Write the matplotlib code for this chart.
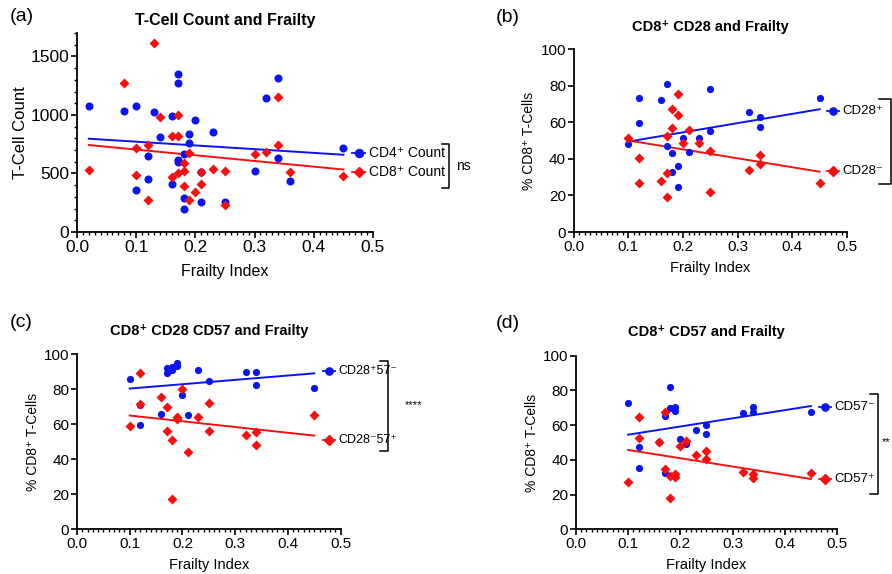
import numpy as np
import matplotlib
matplotlib.use("Agg")
import matplotlib.pyplot as plt
from matplotlib.ticker import MultipleLocator

plt.rcParams["font.family"] = ["Liberation Sans", "DejaVu Sans"]

BLUE = "#0a14f0"
RED = "#f51010"

# (a) T-cell counts
a_cd4_x = [0.02, 0.08, 0.10, 0.10, 0.12, 0.12, 0.13, 0.14, 0.16, 0.16, 0.17, 0.17, 0.17, 0.17, 0.18,
           0.18, 0.18, 0.19, 0.19, 0.20, 0.21, 0.21, 0.23, 0.25, 0.30, 0.32, 0.34, 0.34, 0.36, 0.45]
a_cd4_y = [1080, 1034, 1077, 363, 649, 457, 1026, 811, 994, 411, 1349, 1277, 611, 597, 663,
           291, 197, 834, 757, 960, 514, 254, 857, 254, 517, 1146, 1314, 634, 434, 714]
a_cd8_x = [0.02, 0.08, 0.10, 0.10, 0.12, 0.12, 0.13, 0.14, 0.16, 0.16, 0.17, 0.17, 0.17, 0.18, 0.18,
           0.18, 0.19, 0.19, 0.20, 0.21, 0.21, 0.23, 0.25, 0.25, 0.30, 0.32, 0.34, 0.34, 0.36, 0.45]
a_cd8_y = [529, 1269, 717, 491, 743, 277, 1611, 986, 823, 469, 1000, 823, 506, 591, 520,
           397, 671, 277, 340, 514, 411, 540, 517, 229, 663, 686, 1154, 743, 514, 477]
a_fit_x = [0.02, 0.45]
a_cd4_fit = [797, 660]
a_cd8_fit = [743, 534]

# (b) CD28
b_pos_x = [0.10, 0.12, 0.12, 0.16, 0.17, 0.17, 0.18, 0.18, 0.19, 0.19, 0.20, 0.21, 0.23, 0.25,
           0.25, 0.32, 0.34, 0.34, 0.45]
b_pos_y = [48.3, 73.2, 59.6, 72.5, 81.0, 47.2, 43.2, 32.8, 36.2, 24.6, 51.7, 43.9, 51.7, 78.1,
           55.4, 65.8, 62.8, 57.7, 73.6]
b_neg_x = [0.10, 0.12, 0.12, 0.16, 0.17, 0.17, 0.17, 0.18, 0.18, 0.19, 0.19, 0.20, 0.21, 0.23,
           0.25, 0.25, 0.32, 0.34, 0.34, 0.45]
b_neg_y = [51.7, 40.6, 27.0, 27.7, 52.7, 19.1, 32.2, 67.2, 56.8, 75.4, 64.0, 48.5, 55.8, 48.5,
           44.5, 21.9, 34.1, 42.1, 37.0, 26.6]
b_fit_x = [0.10, 0.45]
b_pos_fit = [49.5, 67.2]
b_neg_fit = [50.1, 33.0]

# (c) CD28 CD57
c_pos_x = [0.10, 0.12, 0.12, 0.16, 0.17, 0.17, 0.18, 0.18, 0.19, 0.19, 0.20, 0.21, 0.23, 0.25,
           0.32, 0.34, 0.34, 0.45]
c_pos_y = [85.7, 70.9, 59.8, 65.6, 92.0, 89.5, 92.6, 90.9, 95.0, 93.2, 77.0, 65.2, 90.8, 84.7,
           89.9, 89.9, 82.5, 80.8]
c_neg_x = [0.10, 0.12, 0.12, 0.16, 0.17, 0.17, 0.18, 0.18, 0.19, 0.19, 0.20, 0.21, 0.23, 0.25,
           0.25, 0.32, 0.34, 0.34, 0.45]
c_neg_y = [58.9, 89.5, 71.8, 75.4, 70.0, 56.3, 51.0, 17.3, 64.2, 62.9, 80.0, 44.0, 64.1, 72.3,
           56.3, 54.1, 55.8, 48.2, 65.1]
c_fit_x = [0.10, 0.45]
c_pos_fit = [80.4, 89.1]
c_neg_fit = [65.0, 53.5]

# (d) CD57
d_neg_x = [0.10, 0.12, 0.12, 0.16, 0.17, 0.17, 0.18, 0.18, 0.19, 0.19, 0.20, 0.21, 0.23, 0.25,
           0.25, 0.32, 0.34, 0.34, 0.45]
d_neg_y = [72.7, 47.6, 35.5, 50.3, 65.4, 32.6, 82.1, 69.7, 70.3, 68.2, 52.0, 49.4, 57.2, 60.1,
           54.9, 66.8, 70.5, 67.7, 67.6]
d_pos_x = [0.10, 0.12, 0.12, 0.16, 0.17, 0.17, 0.18, 0.18, 0.19, 0.19, 0.20, 0.21, 0.23, 0.25,
           0.25, 0.32, 0.34, 0.34, 0.45]
d_pos_y = [27.1, 64.5, 52.6, 50.1, 67.7, 35.0, 30.8, 17.9, 31.7, 30.2, 48.0, 50.8, 42.9, 45.3,
           40.3, 33.1, 32.0, 29.6, 32.4]
d_fit_x = [0.10, 0.45]
d_neg_fit = [54.5, 71.0]
d_pos_fit = [45.7, 29.0]


def style_axes(ax, ymax, ymajor, yminor, tick_fs):
    ax.set_xlim(0, 0.5)
    ax.set_ylim(0, ymax)
    ax.spines["top"].set_visible(False)
    ax.spines["right"].set_visible(False)
    ax.spines["left"].set_linewidth(1.3)
    ax.spines["bottom"].set_linewidth(1.3)
    ax.xaxis.set_major_locator(MultipleLocator(0.1))
    ax.xaxis.set_minor_locator(MultipleLocator(0.01))
    ax.yaxis.set_major_locator(MultipleLocator(ymajor))
    if yminor:
        ax.yaxis.set_minor_locator(MultipleLocator(yminor))
    ax.xaxis.set_major_formatter(matplotlib.ticker.FormatStrFormatter("%.1f"))
    ax.tick_params(which="major", direction="out", length=4, width=1.2, labelsize=tick_fs, pad=1.5)
    ax.tick_params(which="minor", direction="out", length=2.2, width=1.0)


def key(ax, xf, yf, color, marker, ms, label, fs):
    # GraphPad style key: short line with marker, label to the right
    ax.plot([xf - 0.022, xf + 0.022], [yf, yf], color=color, lw=1.3,
            transform=ax.transAxes, clip_on=False)
    ax.plot([xf], [yf], marker=marker, color=color, ms=ms, transform=ax.transAxes, clip_on=False)
    ax.text(xf + 0.036, yf, label, transform=ax.transAxes, fontsize=fs, va="center", ha="left")


def bracket(ax, xf, y0, y1, w, text, tx, ty, fs):
    ax.plot([xf - w, xf, xf, xf - w], [y1, y1, y0, y0], color="black", lw=1.1,
            transform=ax.transAxes, clip_on=False)
    if text:
        ax.text(tx, ty, text, transform=ax.transAxes, fontsize=fs, va="center", ha="left")


def scatter_pair(ax, x1, y1, x2, y2, fx, f1, f2, ms_o, ms_d):
    ax.plot(x1, y1, "o", color=BLUE, ms=ms_o, mec="none", clip_on=False, zorder=3)
    ax.plot(x2, y2, "D", color=RED, ms=ms_d, mec="none", clip_on=False, zorder=3)
    ax.plot(fx, f1, color=BLUE, lw=1.4, zorder=2)
    ax.plot(fx, f2, color=RED, lw=1.4, zorder=2)


fig = plt.figure(figsize=(8.92, 5.74), dpi=100)
ax_a = fig.add_axes([0.0863, 0.5958, 0.3318, 0.3467])
ax_b = fig.add_axes([0.6432, 0.5958, 0.3064, 0.3183])
ax_c = fig.add_axes([0.0863, 0.0779, 0.2956, 0.3049])
ax_d = fig.add_axes([0.6457, 0.0779, 0.2926, 0.3024])

# (a)
scatter_pair(ax_a, a_cd4_x, a_cd4_y, a_cd8_x, a_cd8_y, a_fit_x, a_cd4_fit, a_cd8_fit, 5.8, 5.0)
style_axes(ax_a, 1700, 500, 100, 12.5)
ax_a.set_xlabel("Frailty Index", fontsize=11.5, labelpad=7)
ax_a.set_ylabel("T-Cell Count", fontsize=12, labelpad=2)
ax_a.set_title("T-Cell Count and Frailty", fontsize=11.5, fontweight="bold", pad=6)
key(ax_a, 0.952, 0.395, BLUE, "o", 5.8, "CD4⁺ Count", 10)
key(ax_a, 0.952, 0.304, RED, "D", 5.0, "CD8⁺ Count", 10)
bracket(ax_a, 1.256, 0.221, 0.442, 0.022, "ns", 1.28, 0.332, 10)

# (b)
scatter_pair(ax_b, b_pos_x, b_pos_y, b_neg_x, b_neg_y, b_fit_x, b_pos_fit, b_neg_fit, 5.2, 4.6)
style_axes(ax_b, 100, 20, None, 11)
ax_b.set_xlabel("Frailty Index", fontsize=10.5, labelpad=5)
ax_b.set_ylabel("% CD8⁺ T-Cells", fontsize=10, labelpad=3)
ax_b.set_title("CD8⁺ CD28 and Frailty", fontsize=10.5, fontweight="bold", pad=13)
key(ax_b, 0.948, 0.663, BLUE, "o", 5.2, "CD28⁺", 9.5)
key(ax_b, 0.948, 0.332, RED, "D", 4.6, "CD28⁻", 9.5)
bracket(ax_b, 1.161, 0.261, 0.728, 0.045, None, 0, 0, 9)

# (c)
scatter_pair(ax_c, c_pos_x, c_pos_y, c_neg_x, c_neg_y, c_fit_x, c_pos_fit, c_neg_fit, 5.2, 4.6)
style_axes(ax_c, 100, 20, None, 11)
ax_c.set_xlabel("Frailty Index", fontsize=10.5, labelpad=5)
ax_c.set_ylabel("% CD8⁺ T-Cells", fontsize=10, labelpad=3)
ax_c.set_title("CD8⁺ CD28 CD57 and Frailty", fontsize=10.5, fontweight="bold", pad=14)
key(ax_c, 0.956, 0.905, BLUE, "o", 5.2, "CD28⁺57⁻", 9)
key(ax_c, 0.956, 0.509, RED, "D", 4.6, "CD28⁻57⁺", 9)
bracket(ax_c, 1.181, 0.447, 0.962, 0.03, "****", 1.244, 0.71, 8)

# (d)
scatter_pair(ax_d, d_neg_x, d_neg_y, d_pos_x, d_pos_y, d_fit_x, d_neg_fit, d_pos_fit, 5.2, 4.6)
style_axes(ax_d, 100, 20, None, 11)
ax_d.set_xlabel("Frailty Index", fontsize=10.5, labelpad=5)
ax_d.set_ylabel("% CD8⁺ T-Cells", fontsize=10, labelpad=3)
ax_d.set_title("CD8⁺ CD57 and Frailty", fontsize=10.5, fontweight="bold", pad=14)
key(ax_d, 0.954, 0.702, BLUE, "o", 5.2, "CD57⁻", 9.5)
key(ax_d, 0.954, 0.288, RED, "D", 4.6, "CD57⁺", 9.5)
bracket(ax_d, 1.156, 0.202, 0.778, 0.03, "**", 1.172, 0.5, 8)

# panel letters
fig.text(0.011, 0.972, "(a)", fontsize=14, va="center")
fig.text(0.556, 0.970, "(b)", fontsize=14, va="center")
fig.text(0.011, 0.438, "(c)", fontsize=14, va="center")
fig.text(0.556, 0.437, "(d)", fontsize=14, va="center")

fig.savefig("out.png", dpi=100)
